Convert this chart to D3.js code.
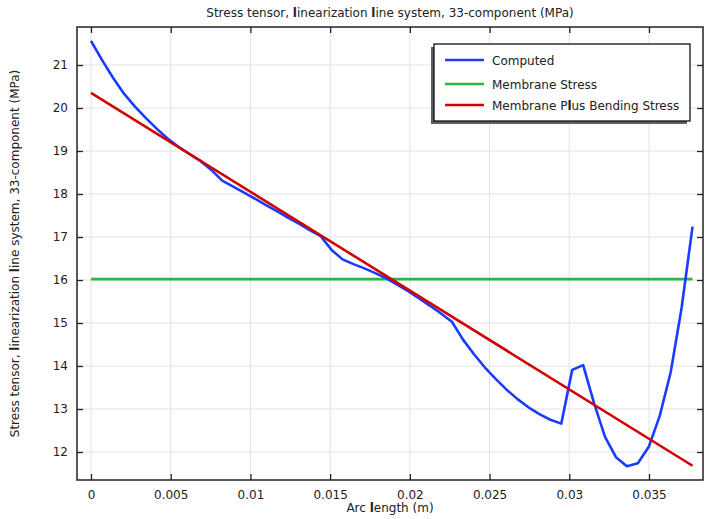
<!DOCTYPE html>
<html>
<head>
<meta charset="utf-8">
<script src="https://cdn.jsdelivr.net/npm/d3@7"></script>
<style>
  html, body { margin: 0; padding: 0; background: #fff; }
  svg { display: block; font-family: "DejaVu Sans", sans-serif; }
</style>
</head>
<body>
<svg id="chart" width="705" height="519"></svg>
<script>
// Arc length along the linearization line (m)
const arcLength = [
  0.000000, 0.000686, 0.001372, 0.002058, 0.002744, 0.003430, 0.004116, 0.004802,
  0.005488, 0.006174, 0.006860, 0.007546, 0.008232, 0.008918, 0.009604, 0.010290,
  0.010976, 0.011662, 0.012348, 0.013034, 0.013720, 0.014406, 0.015092, 0.015778,
  0.016464, 0.017150, 0.017836, 0.018522, 0.019208, 0.019894, 0.020580, 0.021266,
  0.021952, 0.022638, 0.023324, 0.024010, 0.024696, 0.025382, 0.026068, 0.026754,
  0.027440, 0.028126, 0.028812, 0.029498, 0.030184, 0.030870, 0.031556, 0.032242,
  0.032928, 0.033614, 0.034300, 0.034986, 0.035672, 0.036358, 0.037044, 0.037730
];

// Computed 33-component stress (MPa)
const computed = [
  21.56, 21.12, 20.71, 20.34, 20.04, 19.77, 19.52, 19.29,
  19.10, 18.93, 18.77, 18.56, 18.31, 18.17, 18.03, 17.89,
  17.74, 17.60, 17.45, 17.31, 17.16, 17.02, 16.70, 16.48,
  16.37, 16.27, 16.16, 16.04, 15.89, 15.74, 15.57, 15.40,
  15.22, 15.03, 14.62, 14.28, 13.97, 13.70, 13.45, 13.23,
  13.04, 12.88, 12.75, 12.66, 13.91, 14.02, 13.13, 12.35,
  11.88, 11.67, 11.74, 12.12, 12.84, 13.85, 15.35, 17.24
];

// Linearized stresses at the two ends of the line (MPa)
const membraneEnds = [16.02, 16.02];
const bendingEnds = [20.35, 11.68];
const lineEnds = [0, 0.03773];

const xTicks = [0, 0.005, 0.01, 0.015, 0.02, 0.025, 0.03, 0.035];
const xTickLabels = ["0", "0.005", "0.01", "0.015", "0.02", "0.025", "0.03", "0.035"];
const yTicks = [12, 13, 14, 15, 16, 17, 18, 19, 20, 21];

const seriesNames = ["Computed", "Membrane Stress", "Membrane Plus Bending Stress"];
const seriesColors = ["#1a3cff", "#2bb83b", "#d40000"];

const titleText = "Stress tensor, linearization line system, 33-component (MPa)";
const xAxisText = "Arc length (m)";
const yAxisText = "Stress tensor, linearization line system, 33-component (MPa)";

(function drawChart() {
  const svg = d3.select("#chart");
  const pLeft = 77, pRight = 703, pTop = 27, pBottom = 480;

  const x = d3.scaleLinear().domain([-0.000878, 0.038387]).range([pLeft, pRight]);
  const y = d3.scaleLinear().domain([11.349, 21.884]).range([pBottom, pTop]);

  // Text with the heavier lowercase "l" glyphs
  function richText(sel, str) {
    str.split(/(l)/).forEach(p => {
      if (!p) return;
      const t = sel.append("tspan").text(p);
      if (p === "l") t.attr("font-weight", "bold");
    });
  }

  // Grid
  const grid = svg.append("g").attr("stroke", "#e2e2e2").attr("stroke-width", 1);
  grid.selectAll("line.gx").data(xTicks).join("line").attr("class", "gx")
    .attr("x1", d => x(d)).attr("x2", d => x(d)).attr("y1", pTop).attr("y2", pBottom);
  grid.selectAll("line.gy").data(yTicks).join("line").attr("class", "gy")
    .attr("x1", pLeft).attr("x2", pRight).attr("y1", d => y(d)).attr("y2", d => y(d));

  // Axes with inward ticks
  const axisColor = "#222";
  const gB = svg.append("g").attr("transform", `translate(0,${pBottom})`)
    .call(d3.axisBottom(x).tickValues(xTicks).tickSizeInner(-6).tickSizeOuter(0)
      .tickFormat((d, i) => xTickLabels[i]).tickPadding(10));
  const gT = svg.append("g").attr("transform", `translate(0,${pTop})`)
    .call(d3.axisTop(x).tickValues(xTicks).tickSizeInner(-6).tickSizeOuter(0).tickFormat(""));
  const gL = svg.append("g").attr("transform", `translate(${pLeft},0)`)
    .call(d3.axisLeft(y).tickValues(yTicks).tickSizeInner(-6).tickSizeOuter(0).tickPadding(9));
  const gR = svg.append("g").attr("transform", `translate(${pRight},0)`)
    .call(d3.axisRight(y).tickValues(yTicks).tickSizeInner(-6).tickSizeOuter(0).tickFormat(""));
  [gB, gT, gL, gR].forEach(g => {
    g.select(".domain").remove();
    g.selectAll(".tick line").attr("stroke", axisColor).attr("stroke-width", 1.3);
    g.selectAll("text").attr("fill", "#222").attr("font-size", 12)
      .attr("font-family", "DejaVu Sans, sans-serif");
  });

  // Frame
  svg.append("rect").attr("x", pLeft).attr("y", pTop)
    .attr("width", pRight - pLeft).attr("height", pBottom - pTop)
    .attr("fill", "none").attr("stroke", axisColor).attr("stroke-width", 1.5);

  // Series
  svg.append("clipPath").attr("id", "plotclip")
    .append("rect").attr("x", pLeft).attr("y", pTop)
    .attr("width", pRight - pLeft).attr("height", pBottom - pTop);
  const plot = svg.append("g").attr("clip-path", "url(#plotclip)");
  const line = d3.line().x(d => x(d[0])).y(d => y(d[1]));

  plot.append("path").datum(lineEnds.map((v, i) => [v, membraneEnds[i]]))
    .attr("d", line).attr("fill", "none").attr("stroke", seriesColors[1]).attr("stroke-width", 2.6);
  plot.append("path").datum(arcLength.map((v, i) => [v, computed[i]]))
    .attr("d", line).attr("fill", "none").attr("stroke", seriesColors[0]).attr("stroke-width", 2.6)
    .attr("stroke-linejoin", "round");
  plot.append("path").datum(lineEnds.map((v, i) => [v, bendingEnds[i]]))
    .attr("d", line).attr("fill", "none").attr("stroke", seriesColors[2]).attr("stroke-width", 2.6);

  // Title and axis labels
  svg.append("text").attr("x", (pLeft + pRight) / 2).attr("y", 17)
    .attr("text-anchor", "middle").attr("font-size", 12).attr("fill", "#222")
    .call(richText, titleText);
  svg.append("text").attr("x", (pLeft + pRight) / 2).attr("y", 512)
    .attr("text-anchor", "middle").attr("font-size", 12).attr("fill", "#222")
    .call(richText, xAxisText);
  svg.append("text").attr("transform", `translate(19,${(pTop + pBottom) / 2}) rotate(-90)`)
    .attr("text-anchor", "middle").attr("font-size", 12).attr("fill", "#222")
    .call(richText, yAxisText);

  // Legend
  const lg = svg.append("g");
  const lx = 434, ly = 44, lw = 256, lh = 77;
  lg.append("rect").attr("x", lx - 3).attr("y", ly + 3).attr("width", lw).attr("height", lh)
    .attr("fill", "#606060");
  lg.append("rect").attr("x", lx).attr("y", ly).attr("width", lw).attr("height", lh)
    .attr("fill", "#fff").attr("stroke", "#111").attr("stroke-width", 1.3);
  const rowY = [60, 84, 105];
  seriesNames.forEach((name, i) => {
    lg.append("line").attr("x1", 445).attr("x2", 484).attr("y1", rowY[i]).attr("y2", rowY[i])
      .attr("stroke", seriesColors[i]).attr("stroke-width", 2.6);
    lg.append("text").attr("x", 492).attr("y", rowY[i] + 4.5)
      .attr("font-size", 12).attr("fill", "#222").call(richText, name);
  });
})();
</script>
</body>
</html>
